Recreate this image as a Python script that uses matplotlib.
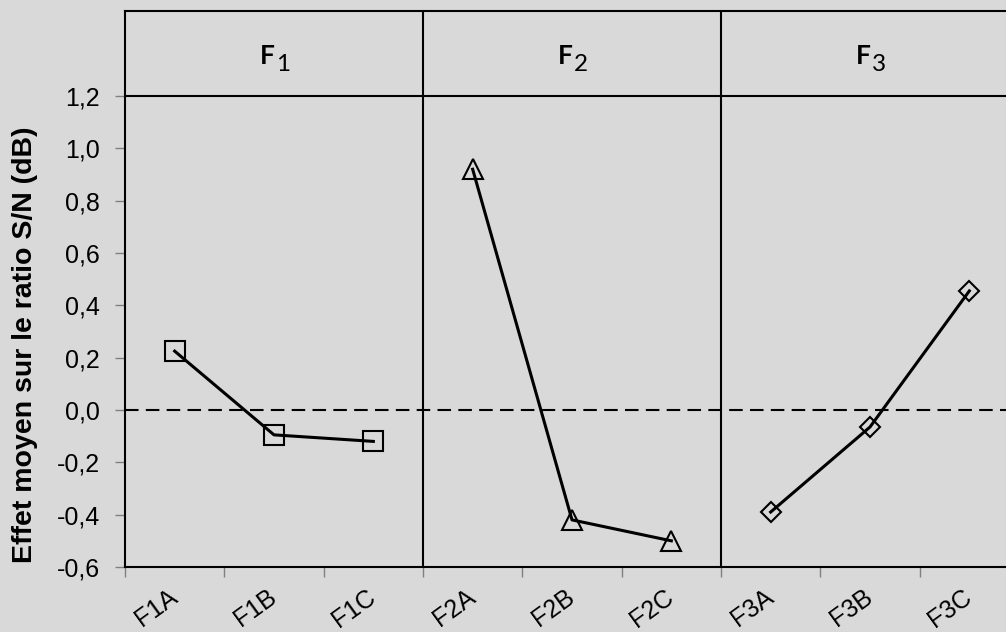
import matplotlib
matplotlib.use("Agg")
import matplotlib.pyplot as plt
import matplotlib.transforms as mtransforms

# ---- data ----
categories = ["F1A", "F1B", "F1C", "F2A", "F2B", "F2C", "F3A", "F3B", "F3C"]
f1_values = [0.225, -0.095, -0.12]
f2_values = [0.92, -0.42, -0.50]
f3_values = [-0.39, -0.065, 0.455]
group_titles = ["1", "2", "3"]
y_ticks = [-0.6, -0.4, -0.2, 0.0, 0.2, 0.4, 0.6, 0.8, 1.0, 1.2]
y_label = "Effet moyen sur le ratio S/N (dB)"

BG = "#d9d9d9"
W, H = 1006, 632
fig = plt.figure(figsize=(W / 100, H / 100), dpi=100, facecolor=BG)

left_px, right_px, top_px, bottom_px = 125, 1019, 11, 567
ax = fig.add_axes([left_px / W, 1 - bottom_px / H,
                   (right_px - left_px) / W, (bottom_px - top_px) / H])
ax.set_facecolor(BG)

ymin, ymax = -0.6, 1.2 + (96 - 11) / ((567 - 96) / 1.8)
ax.set_xlim(0, 9)
ax.set_ylim(ymin, ymax)

xs = [i + 0.5 for i in range(len(categories))]
series = [(f1_values, "s", 14.4), (f2_values, "^", 15), (f3_values, "D", 10.5)]
for g, (vals, mk, ms) in enumerate(series):
    ax.plot(xs[3 * g:3 * g + 3], vals, color="black", lw=2.2, marker=mk,
            markersize=ms, markerfacecolor="none", markeredgecolor="black",
            markeredgewidth=1.5, zorder=5)

# zero dashed line
ax.axhline(0, color="black", lw=1.5, dashes=(6.5, 3.5), zorder=3)
# header line
ax.axhline(1.2, color="black", lw=1.5, zorder=4)
# group dividers
for b in [3, 6]:
    ax.axvline(b, color="black", lw=1.5, zorder=4)

# group titles
yh = (ymax + 1.2) / 2
for g, t in enumerate(group_titles):
    cx = 3 * g + 1.5
    ax.text(cx, yh, "F", ha="right", va="center", fontsize=19,
            fontfamily="Lato", fontweight="bold",
            transform=mtransforms.offset_copy(ax.transData, fig=fig, x=1, y=-3, units="dots"))
    ax.text(cx, yh, t, ha="left", va="center", fontsize=17.5,
            fontfamily="Lato",
            transform=mtransforms.offset_copy(ax.transData, fig=fig, x=2, y=-11, units="dots"))

# spines
for s in ["left", "bottom", "top", "right"]:
    ax.spines[s].set_color("black")
    ax.spines[s].set_linewidth(1.5)

# y axis
ax.set_yticks(y_ticks)
ax.set_yticklabels([f"{v:.1f}".replace(".", ",").replace("-0,0", "0,0") for v in y_ticks],
                   fontfamily="Liberation Sans", fontsize=18)
ax.tick_params(axis="y", which="major", direction="out", length=7, width=1,
               color="#808080", pad=11)

# x axis: ticks at boundaries, labels at centres
ax.set_xticks(range(0, 10))
ax.set_xticklabels([""] * 10)
ax.tick_params(axis="x", which="major", direction="out", length=7, width=1,
               color="#808080")
ax.set_xticks(xs, minor=True)
ax.set_xticklabels(categories, minor=True, rotation=36, ha="right",
                   rotation_mode="anchor", fontfamily="Liberation Sans", fontsize=18)
ax.tick_params(axis="x", which="minor", length=0, pad=24)
offset = mtransforms.ScaledTranslation(4 / 100, 0, fig.dpi_scale_trans)
for lab in ax.get_xticklabels(minor=True):
    lab.set_transform(lab.get_transform() + offset)
    lab.set_va("baseline")

fig.text(25 / W, 1 - 345 / H, y_label, rotation=90, ha="center", va="center",
         fontfamily="Liberation Sans", fontweight="bold", fontsize=20.5)

fig.savefig("out.png", dpi=100, facecolor=BG)
